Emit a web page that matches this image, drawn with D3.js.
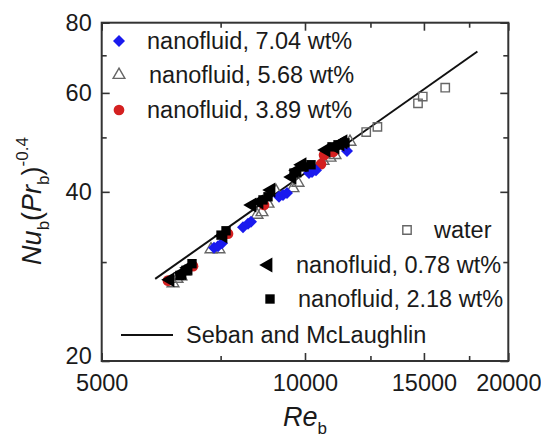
<!DOCTYPE html>
<html>
<head>
<meta charset="utf-8">
<script src="https://cdn.jsdelivr.net/npm/d3@7"></script>
<style>
  html, body { margin: 0; padding: 0; background: #fff; }
  svg text { font-family: Arial, "Liberation Sans", Helvetica, sans-serif; fill: #1a1a1a; }
</style>
</head>
<body>
<svg id="chart" width="541" height="439"></svg>
<script>
// Reynolds number (x) and Nu_b(Pr_b)^-0.4 (y) for each fluid
const water_Re = [12320, 12800, 14700, 14940, 16130];
const water_Nu = [51.1, 52.2, 57.5, 59.1, 61.3];

const nf568_Re = [6376, 6464, 6552, 6642, 7258, 7458, 8491, 8636, 8815, 9059, 9599, 9765, 10633, 10890, 11077, 11658];
const nf568_Nu = [27.5, 28.0, 28.3, 28.8, 31.6, 31.6, 36.4, 36.8, 38.1, 40.1, 40.6, 41.5, 45.4, 46.0, 46.5, 49.1];

const nf389_Re = [6268, 6826, 7691, 8696, 10561, 10670, 11002];
const nf389_Nu = [27.8, 29.5, 33.7, 37.9, 44.8, 46.5, 47.1];

const nf704_Re = [7333, 7433, 7535, 8095, 8234, 8319, 9152, 9278, 9405, 10138, 10242, 10383, 11540];
const nf704_Nu = [31.8, 32.0, 32.4, 34.6, 35.1, 35.4, 39.2, 39.5, 39.8, 43.2, 43.4, 43.7, 47.3];

const nf078_Re = [6311, 6575, 6711, 7561, 8347, 8549, 8906, 9567, 9731, 9899, 10742, 11077, 11268, 11384];
const nf078_Nu = [27.9, 28.7, 29.3, 33.4, 37.9, 38.4, 40.3, 42.5, 43.7, 44.7, 47.5, 48.1, 48.7, 49.1];

const nf218_Re = [6530, 6665, 6803, 7510, 7639, 8666, 8815, 9632, 9966, 10207, 10965, 11191, 11461];
const nf218_Nu = [28.4, 29.0, 29.8, 33.5, 34.1, 38.7, 39.2, 43.2, 44.3, 44.7, 48.1, 48.5, 48.9];

// Seban and McLaughlin correlation, end points of the straight line on log-log axes
const seban_Re = [6000, 18000];
const seban_Nu = [28.0, 71.1];

// Axis ticks
const reTicksMajor = [5000, 10000, 15000, 20000];
const reTicksMinor = [7500, 12500, 17500];
const nuTicksMajor = [20, 40, 60, 80];
const nuTicksMinor = [30, 50, 70];

const svg = d3.select("#chart");
const L = 101.7, R = 508.3, T = 22.7, B = 361;

const x = d3.scaleLog().domain([5000, 20000]).range([L, R]);
const y = d3.scaleLog().domain([20, 80]).range([B, T]);

const axisColor = "#333";

// Frame
svg.append("rect")
  .attr("x", L).attr("y", T).attr("width", R - L).attr("height", B - T)
  .attr("fill", "none").attr("stroke", axisColor).attr("stroke-width", 2);

function styleAxis(g) {
  g.select(".domain").remove();
  g.selectAll(".tick line").attr("stroke", axisColor).attr("stroke-width", 1.6);
  g.selectAll(".tick text").attr("font-size", 23.5).attr("fill", "#1a1a1a")
    .style("font-family", "Arial, 'Liberation Sans', sans-serif");
}

// Bottom axis (labelled) + minor ticks
svg.append("g").attr("transform", `translate(0,${B})`)
  .call(d3.axisBottom(x).tickValues(reTicksMajor).tickSize(-8).tickPadding(13).tickFormat(d3.format("d")))
  .call(styleAxis);
svg.append("g").attr("transform", `translate(0,${B})`)
  .call(d3.axisBottom(x).tickValues(reTicksMinor).tickSize(-5).tickFormat(""))
  .call(styleAxis);
// Top mirrored ticks
svg.append("g").attr("transform", `translate(0,${T})`)
  .call(d3.axisTop(x).tickValues(reTicksMajor).tickSize(-8).tickFormat(""))
  .call(styleAxis);
svg.append("g").attr("transform", `translate(0,${T})`)
  .call(d3.axisTop(x).tickValues(reTicksMinor).tickSize(-5).tickFormat(""))
  .call(styleAxis);

// Left axis (labelled) + minor ticks
const leftAxis = svg.append("g").attr("transform", `translate(${L},0)`)
  .call(d3.axisLeft(y).tickValues(nuTicksMajor).tickSize(-8).tickPadding(10).tickFormat(d3.format("d")))
  .call(styleAxis);
leftAxis.selectAll(".tick text").filter(d => d === 20).attr("dy", "0.1em");
svg.append("g").attr("transform", `translate(${L},0)`)
  .call(d3.axisLeft(y).tickValues(nuTicksMinor).tickSize(-5).tickFormat(""))
  .call(styleAxis);
// Right mirrored ticks
svg.append("g").attr("transform", `translate(${R},0)`)
  .call(d3.axisRight(y).tickValues(nuTicksMajor).tickSize(-8).tickFormat(""))
  .call(styleAxis);
svg.append("g").attr("transform", `translate(${R},0)`)
  .call(d3.axisRight(y).tickValues(nuTicksMinor).tickSize(-5).tickFormat(""))
  .call(styleAxis);

// Axis titles
const xt = svg.append("text").attr("x", 305).attr("y", 426).attr("text-anchor", "middle").attr("font-size", 27);
xt.append("tspan").attr("font-style", "italic").text("Re");
xt.append("tspan").attr("font-size", 17).attr("dy", 8).text("b");

const yt = svg.append("text").attr("transform", "translate(41,201) rotate(-90)")
  .attr("text-anchor", "middle").attr("font-size", 27);
yt.append("tspan").attr("font-style", "italic").text("Nu");
yt.append("tspan").attr("font-size", 17).attr("dy", 8).text("b");
yt.append("tspan").attr("dy", -8).text("(");
yt.append("tspan").attr("font-style", "italic").text("Pr");
yt.append("tspan").attr("font-size", 17).attr("dy", 8).text("b");
yt.append("tspan").attr("dy", -8).text(")");
yt.append("tspan").attr("font-size", 17).attr("dy", -13).text("-0.4");

// Marker shapes
const shapes = {
  diamond: d3.symbol().type(d3.symbolSquare).size(72),
  triUp: d3.symbol().type(d3.symbolTriangle).size(60),
  circle: d3.symbol().type(d3.symbolCircle).size(90),
  square: d3.symbol().type(d3.symbolSquare).size(88),
  openSquare: d3.symbol().type(d3.symbolSquare).size(70),
  triLeft: d3.symbol().type(d3.symbolTriangle).size(100)
};

const series = [
  { re: water_Re, nu: water_Nu, shape: "openSquare", fill: "none", stroke: "#666", rot: 0 },
  { re: nf568_Re, nu: nf568_Nu, shape: "triUp", fill: "none", stroke: "#666", rot: 0 },
  { re: nf389_Re, nu: nf389_Nu, shape: "circle", fill: "#d42020", stroke: "none", rot: 0 },
  { re: nf704_Re, nu: nf704_Nu, shape: "diamond", fill: "#1a1aee", stroke: "none", rot: 45 },
  { re: nf078_Re, nu: nf078_Nu, shape: "triLeft", fill: "#000", stroke: "none", rot: -90 },
  { re: nf218_Re, nu: nf218_Nu, shape: "square", fill: "#000", stroke: "none", rot: 0 }
];

function drawMarker(g, cx, cy, s) {
  g.append("path")
    .attr("d", shapes[s.shape]())
    .attr("transform", `translate(${cx},${cy}) rotate(${s.rot})`)
    .attr("fill", s.fill)
    .attr("stroke", s.stroke)
    .attr("stroke-width", s.fill === "none" ? 1.4 : 0);
}

// Correlation line
svg.append("line")
  .attr("x1", x(seban_Re[0])).attr("y1", y(seban_Nu[0]))
  .attr("x2", x(seban_Re[1])).attr("y2", y(seban_Nu[1]))
  .attr("stroke", "#111").attr("stroke-width", 2);

// Data points
series.forEach(s => {
  const g = svg.append("g");
  s.re.forEach((re, i) => drawMarker(g, x(re), y(s.nu[i]), s));
});

// Legend, upper left
const legendTop = [
  { s: series[3], label: "nanofluid, 7.04 wt%", mx: 119, my: 41, tx: 147 },
  { s: series[1], label: "nanofluid, 5.68 wt%", mx: 119, my: 75, tx: 149 },
  { s: series[2], label: "nanofluid, 3.89 wt%", mx: 119, my: 110, tx: 147 }
];
// Legend, lower right
const legendBottom = [
  { s: series[0], label: "water", mx: 407, my: 230, tx: 434 },
  { s: series[4], label: "nanofluid, 0.78 wt%", mx: 268, my: 265, tx: 296 },
  { s: series[5], label: "nanofluid, 2.18 wt%", mx: 270, my: 299, tx: 298 }
];
const lg = svg.append("g");
legendTop.concat(legendBottom).forEach(e => {
  drawMarker(lg, e.mx, e.my, e.s);
  lg.append("text").attr("x", e.tx).attr("y", e.my + 8).attr("font-size", 23.5).text(e.label);
});
lg.append("line").attr("x1", 121).attr("x2", 173).attr("y1", 335).attr("y2", 335)
  .attr("stroke", "#111").attr("stroke-width", 2);
lg.append("text").attr("x", 186).attr("y", 343).attr("font-size", 23.5).text("Seban and McLaughlin");
</script>
</body>
</html>
